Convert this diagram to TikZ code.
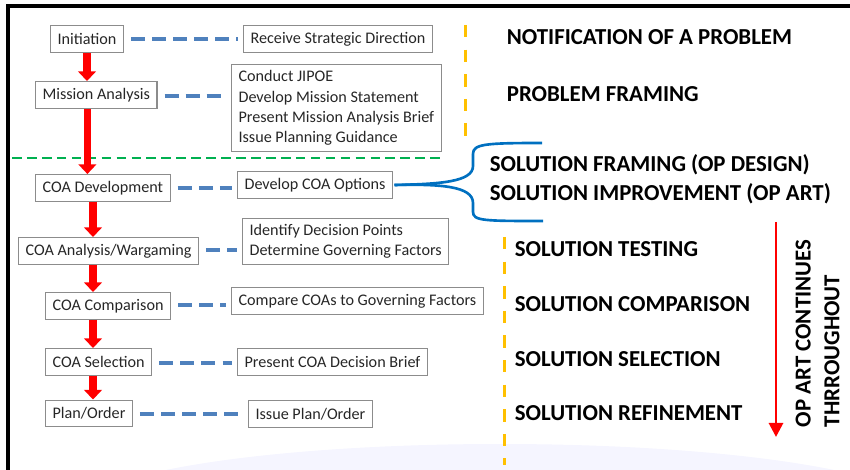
\documentclass[tikz,border=0pt]{standalone}
\usepackage{fontspec}
\setmainfont{Carlito}
\usetikzlibrary{arrows.meta}

\definecolor{dashblue}{HTML}{4F81BD}
\definecolor{bracblue}{HTML}{0070C0}
\definecolor{sepgreen}{HTML}{00B050}
\definecolor{phaseorange}{HTML}{FFC000}
\definecolor{boxgray}{HTML}{8C8C8C}
\definecolor{textgray}{HTML}{262626}

\begin{document}
\begin{tikzpicture}[
                scale=.2,
                stepbox/.style={draw=boxgray,line width=.6pt,anchor=west,align=left,
                    text=textgray,inner xsep=4pt,inner ysep=3.2pt,minimum height=15.3pt,
                    font=\fontsize{9.2}{11.6}\selectfont},
                linkdash/.style={dashblue,line width=2.3pt,dash pattern=on 8pt off 4pt,
                    shorten <=4pt,shorten >=3pt},
                flowarrow/.style={red,line width=4pt,-{Triangle[length=5.5pt,width=10pt]}},
                phase/.style={anchor=west,align=left,inner sep=0pt,text=black,
                    font=\fontsize{13}{16.4}\selectfont\bfseries},
                orangedash/.style={phaseorange,line width=1.7pt,dash pattern=on 7pt off 7pt},
                line width=1pt] %

\useasboundingbox (0,0) rectangle (85,-47);

% background
\fill[blue!4] (50,-51) ellipse (42 and 6.6);
\draw[black,line width=2.3pt] (0.6,-0.6) -- (85,-0.6);
\draw[black,line width=2.3pt] (0.8,-0.6) -- (0.8,-47);

                    % 1
                    \node[stepbox] (INIT) at (5.0,-3.9) {Initiation};
                    \node[stepbox] (RSD) at (24.3,-3.9) {Receive Strategic Direction};
                    \draw[linkdash] (INIT.east) -- (INIT.east -| RSD.west);

                    % 2
                    \node[stepbox] (MA) at (3.5,-9.5) {Mission Analysis};
                    \node[stepbox] (MATASKS) at (23.1,-10.8) {Conduct JIPOE\\Develop Mission Statement\\Present Mission Analysis Brief\\Issue Planning Guidance};
                    \draw[linkdash] ([yshift=-1.5pt]MA.east) -- ([yshift=-1.5pt]MA.east -| MATASKS.west);
                    \draw[flowarrow] (INIT.south) -- (INIT.south |- MA.north);

                    % separator
                    \draw[sepgreen,line width=1.7pt,dash pattern=on 5.5pt off 3pt] (1.2,-15.8) -- (44.3,-15.8);

                    % 3
                    \node[stepbox] (COADEV) at (3.5,-18.8) {COA Development};
                    \node[stepbox] (COAOPT) at (23.7,-18.5) {Develop COA Options};
                    \draw[linkdash] (COADEV.east) -- (COADEV.east -| COAOPT.west);
                    \draw[flowarrow] ([xshift=1.1pt]INIT.south |- MA.south) -- ([xshift=1.1pt]INIT.south |- COADEV.north);

                    \coordinate (SPINE) at (9.3,0);

                    % 4
                    \node[stepbox] (COAANL) at (1.8,-25.1) {COA Analysis/Wargaming};
                    \node[stepbox] (DECPTS) at (24.2,-24.15) {Identify Decision Points\\Determine Governing Factors};
                    \draw[linkdash] ([yshift=1.5pt]COAANL.east) -- ([yshift=1.5pt]COAANL.east -| DECPTS.west);
                    \draw[flowarrow] (SPINE |- COADEV.south) -- (SPINE |- COAANL.north);

                    % 5
                    \node[stepbox] (COACMP) at (4.5,-30.6) {COA Comparison};
                    \node[stepbox] (CMPGF) at (23.1,-30.1) {Compare COAs to Governing Factors};
                    \draw[linkdash] ([yshift=2pt]COACMP.east) -- ([yshift=2pt]COACMP.east -| CMPGF.west);
                    \draw[flowarrow] (SPINE |- COAANL.south) -- (SPINE |- COACMP.north);

                    % 6
                    \node[stepbox] (COASEL) at (4.5,-36.2) {COA Selection};
                    \node[stepbox] (DECBRF) at (23.7,-36.2) {Present COA Decision Brief};
                    \draw[linkdash] ([yshift=-1.5pt]COASEL.east) -- ([yshift=-1.5pt]COASEL.east -| DECBRF.west);
                    \draw[flowarrow] (SPINE |- COACMP.south) -- (SPINE |- COASEL.north);

                    % 7
                    \node[stepbox] (PLAN) at (4.5,-41.35) {Plan/Order};
                    \node[stepbox] (ISSUE) at (24.8,-41.4) {Issue Plan/Order};
                    \draw[linkdash] ([yshift=-1pt]PLAN.east) -- ([yshift=-1pt]PLAN.east -| ISSUE.west);
                    \draw[flowarrow] (SPINE |- COASEL.south) -- (SPINE |- PLAN.north);

%%%%%%%%%%%%%%%%%%%%%%%%%%%%%%%%%%%%%%%%%%%%%%%%%%%%%%%%%%%%%%%%%%%%%%%%%%%%%%%%%%%%

                    % phases
                    \draw[orangedash] (46.5,-2.5) -- (46.5,-14.6);
                    \draw[orangedash] (50.4,-23.7) -- (50.4,-46.5);

                    \node[phase] (NOTIF) at (50.6,-3.7) {NOTIFICATION OF A PROBLEM};
                    \node[phase] (PFRAME) at (50.6,-9.4) {PROBLEM FRAMING};
                    \node[phase] (SFRAME) at (48.9,-17.95) {SOLUTION FRAMING (OP DESIGN)\\SOLUTION IMPROVEMENT (OP ART)};
                    \node[phase] (STEST) at (51.4,-24.9) {SOLUTION TESTING};
                    \node[phase] (SCOMP) at (51.4,-30.4) {SOLUTION COMPARISON};
                    \node[phase] (SSEL) at (51.4,-35.9) {SOLUTION SELECTION};
                    \node[phase] (SREF) at (51.4,-41.3) {SOLUTION REFINEMENT};

                    % brace
                    \coordinate (BRTIP) at ([xshift=4pt]COAOPT.east);
                    \draw[bracblue,line width=1.5pt] (BRTIP) .. controls (44,-18.4) and (47.3,-18.2) .. (47.3,-16.6) -- (47.3,-15.4) .. controls (47.3,-14.4) and (48.5,-14.3) .. (54.2,-14.3);
                    \draw[bracblue,line width=1.5pt] (BRTIP) .. controls (44,-18.4) and (47.3,-18.6) .. (47.3,-20.3) -- (47.3,-21.2) .. controls (47.3,-22.1) and (48.5,-22.1) .. (54.3,-22.1);

                    % op art
                    \coordinate (OPTOP) at (77.6,-22.2);
                    \coordinate (OPBOT) at (77.6,-43.7);
                    \draw[red,line width=1.6pt,-{Triangle[length=8pt,width=8pt]}] (OPTOP) -- (OPBOT);
                    \node[phase,rotate=90,anchor=west] (OPART) at (81.75,-42.8) {OP ART CONTINUES\\THRROUGHOUT};

\end{tikzpicture}
\end{document}
